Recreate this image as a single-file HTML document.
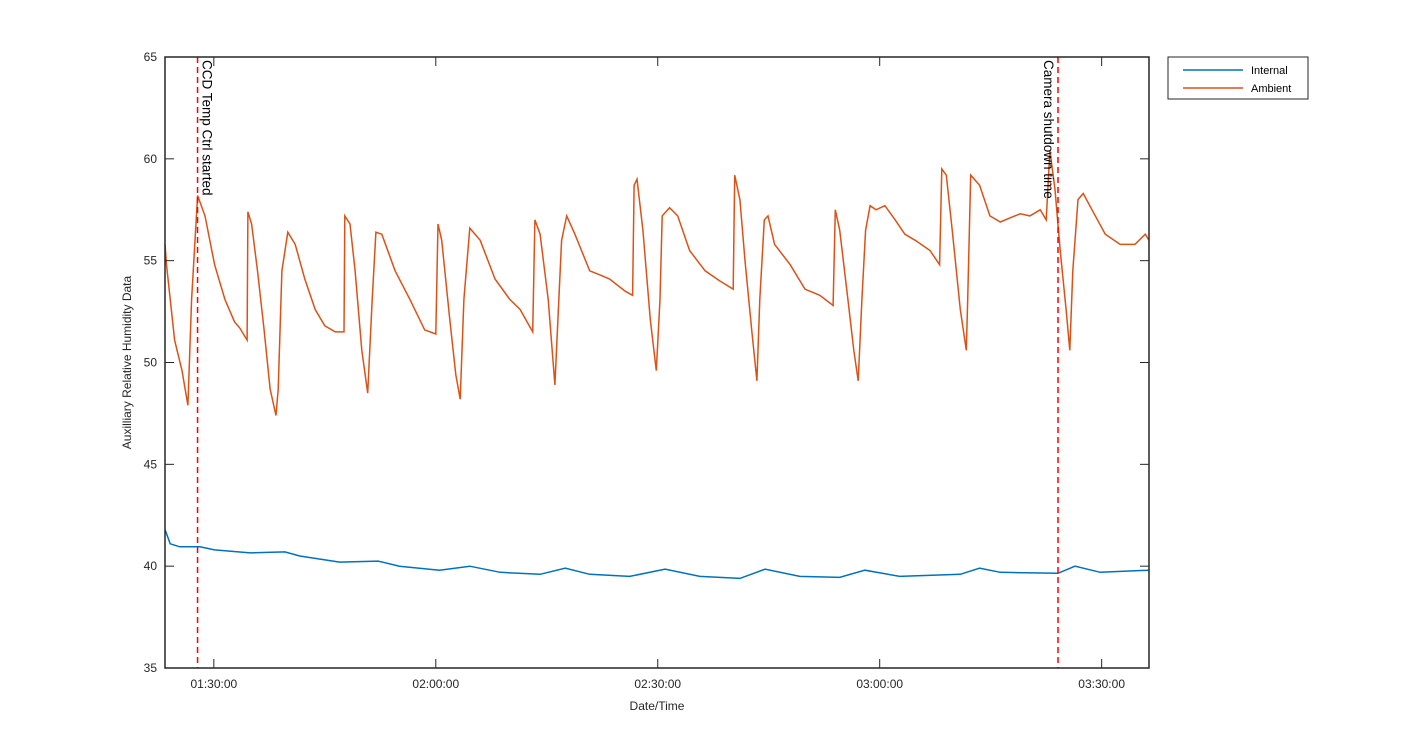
<!DOCTYPE html>
<html><head><meta charset="utf-8"><style>
body{margin:0;background:#fff}
svg{display:block;font-family:"Liberation Sans",sans-serif}
</style></head><body>
<svg id="chart" width="1425" height="750"></svg>
<script>
const ambientTimes=[83.4,83.6,84.7,85.7,86.5,87.0,87.8,88.8,90.1,91.5,92.8,93.5,94.5,94.6,95.1,95.9,96.8,97.6,98.4,98.7,99.2,100.0,101.0,102.3,103.7,105.0,106.4,107.6,107.7,108.4,109.1,110.0,110.8,111.4,111.9,112.7,114.5,116.5,118.5,120.0,120.3,120.8,121.9,122.7,123.3,123.8,124.6,126.0,128.0,130.0,131.4,133.1,133.4,134.1,135.2,136.1,136.5,137.0,137.7,138.8,140.8,142.2,143.5,145.6,146.6,146.8,147.2,148.0,149.0,149.8,150.3,150.6,151.6,152.7,154.3,156.4,158.4,160.2,160.4,161.1,161.8,162.7,163.4,163.8,164.4,164.9,165.8,167.9,169.9,171.9,173.7,174.0,174.6,175.7,176.5,177.1,177.6,178.1,178.7,179.5,180.7,182.1,183.4,184.8,186.8,188.1,188.4,189.0,189.8,190.9,191.7,191.9,192.3,193.5,194.9,196.3,197.6,199.0,200.3,201.7,202.5,203.0,203.7,204.4,205.2,205.7,206.1,206.8,207.5,208.7,210.5,212.5,214.5,215.9,216.4];
const ambientValues=[55.8,54.8,51.1,49.6,47.9,53.1,58.2,57.2,54.8,53.1,52.0,51.7,51.1,57.4,56.8,54.5,51.6,48.7,47.4,48.7,54.5,56.4,55.8,54.1,52.6,51.8,51.5,51.5,57.2,56.8,54.5,50.6,48.5,53.1,56.4,56.3,54.5,53.1,51.6,51.4,56.8,56.0,52.1,49.4,48.2,53.1,56.6,56.0,54.1,53.1,52.6,51.5,57.0,56.3,53.1,48.9,52.1,56.0,57.2,56.3,54.5,54.3,54.1,53.5,53.3,58.7,59.0,56.5,52.1,49.6,53.1,57.2,57.6,57.2,55.5,54.5,54.0,53.6,59.2,58.0,55.0,51.6,49.1,53.1,57.0,57.2,55.8,54.8,53.6,53.3,52.8,57.5,56.5,53.1,50.6,49.1,53.1,56.5,57.7,57.5,57.7,57.0,56.3,56.0,55.5,54.8,59.5,59.2,56.5,52.6,50.6,53.1,59.2,58.7,57.2,56.9,57.1,57.3,57.2,57.5,57.0,60.4,58.5,55.5,52.6,50.6,54.5,58.0,58.3,57.5,56.3,55.8,55.8,56.3,56.0];
const internalTimes=[83.4,84.1,85.4,88.1,90.1,94.9,99.6,101.6,107.0,112.2,115.1,120.5,124.6,128.7,134.1,137.5,140.8,146.2,151.0,155.7,161.1,164.5,169.2,174.6,178.0,182.7,190.9,193.5,196.3,204.1,206.4,209.8,216.4];
const internalValues=[41.8,41.1,40.95,40.95,40.8,40.65,40.7,40.5,40.2,40.25,40.0,39.8,40.0,39.7,39.6,39.9,39.6,39.5,39.85,39.5,39.4,39.85,39.5,39.45,39.8,39.5,39.6,39.9,39.7,39.65,40.0,39.7,39.8];
const xTicks=[90,120,150,180,210];
const xTickLabels=["01:30:00","02:00:00","02:30:00","03:00:00","03:30:00"];
const yTicks=[35,40,45,50,55,60,65];
const eventTimes=[87.8,204.1];
const eventLabels=["CCD Temp Ctrl started","Camera shutdown time"];

const L=165,R=1149,T=57,B=668,X0=83.4,X1=216.4,Y0=35,Y1=65;
const xs=t=>L+(t-X0)/(X1-X0)*(R-L);
const ys=v=>B-(v-Y0)/(Y1-Y0)*(B-T);
const svg=document.getElementById('chart');
const NS='http://www.w3.org/2000/svg';
function mk(tag,attrs,parent){const e=document.createElementNS(NS,tag);for(const k in attrs)e.setAttribute(k,attrs[k]);(parent||svg).appendChild(e);return e;}

const frame=mk('rect',{x:L,y:T,width:R-L,height:B-T,fill:'#fff',stroke:'none'});



function line(ts,vs,color,name){
  const p=mk('polyline',{points:ts.map((t,i)=>xs(t).toFixed(1)+','+ys(vs[i]).toFixed(1)).join(' '),fill:'none',stroke:color,'stroke-width':1.5});
  
  
}
line(internalTimes,internalValues,'#0072bd','internal-series');
line(ambientTimes,ambientValues,'#d95319','ambient-series');

eventTimes.forEach((t,i)=>{
  const l=mk('line',{x1:xs(t),x2:xs(t),y1:T,y2:B,stroke:'#ff0000','stroke-width':1.5,'stroke-dasharray':'6,4'});
  
  
  const tx=i===0?xs(t)+5:xs(t)-14;
  const tt=mk('text',{x:tx,y:T+3,'font-size':13.5,fill:'#000',transform:`rotate(90 ${tx} ${T+3})`});
  tt.textContent=eventLabels[i];
  
  
});

const box=mk('rect',{x:L,y:T,width:R-L,height:B-T,fill:'none',stroke:'#262626','stroke-width':1.5});



xTicks.forEach((t,i)=>{
  const x=xs(t);
  mk('line',{x1:x,x2:x,y1:B,y2:B-9,stroke:'#262626'});
  mk('line',{x1:x,x2:x,y1:T,y2:T+9,stroke:'#262626'});
  const tx=mk('text',{x:x,y:B+20,'font-size':12,'text-anchor':'middle',fill:'#262626'});
  tx.textContent=xTickLabels[i];
  
  
});
yTicks.forEach(v=>{
  const y=ys(v);
  mk('line',{x1:L,x2:L+9,y1:y,y2:y,stroke:'#262626'});
  mk('line',{x1:R,x2:R-9,y1:y,y2:y,stroke:'#262626'});
  const tx=mk('text',{x:L-8,y:y+4,'font-size':12,'text-anchor':'end',fill:'#262626'});
  tx.textContent=v;
  
  
});
const xt=mk('text',{x:(L+R)/2,y:710,'font-size':12,'text-anchor':'middle',fill:'#262626'});
xt.textContent='Date/Time';


const yt=mk('text',{x:131,y:(T+B)/2,'font-size':12,'text-anchor':'middle',fill:'#262626',transform:`rotate(-90 131 ${(T+B)/2})`});
yt.textContent='Auxilliary Relative Humidity Data';



const lg=mk('g',{});


mk('rect',{x:1168,y:57,width:140,height:42,fill:'#fff',stroke:'#262626'},lg);
[['Internal','#0072bd'],['Ambient','#d95319']].forEach((e,i)=>{
  const y=70+i*18;
  const g=mk('g',{},lg);
  
  
  mk('line',{x1:1183,x2:1243,y1:y,y2:y,stroke:e[1],'stroke-width':1.5},g);
  const t=mk('text',{x:1251,y:y+4,'font-size':11,fill:'#000'},g);
  t.textContent=e[0];
});
</script>
</body></html>
